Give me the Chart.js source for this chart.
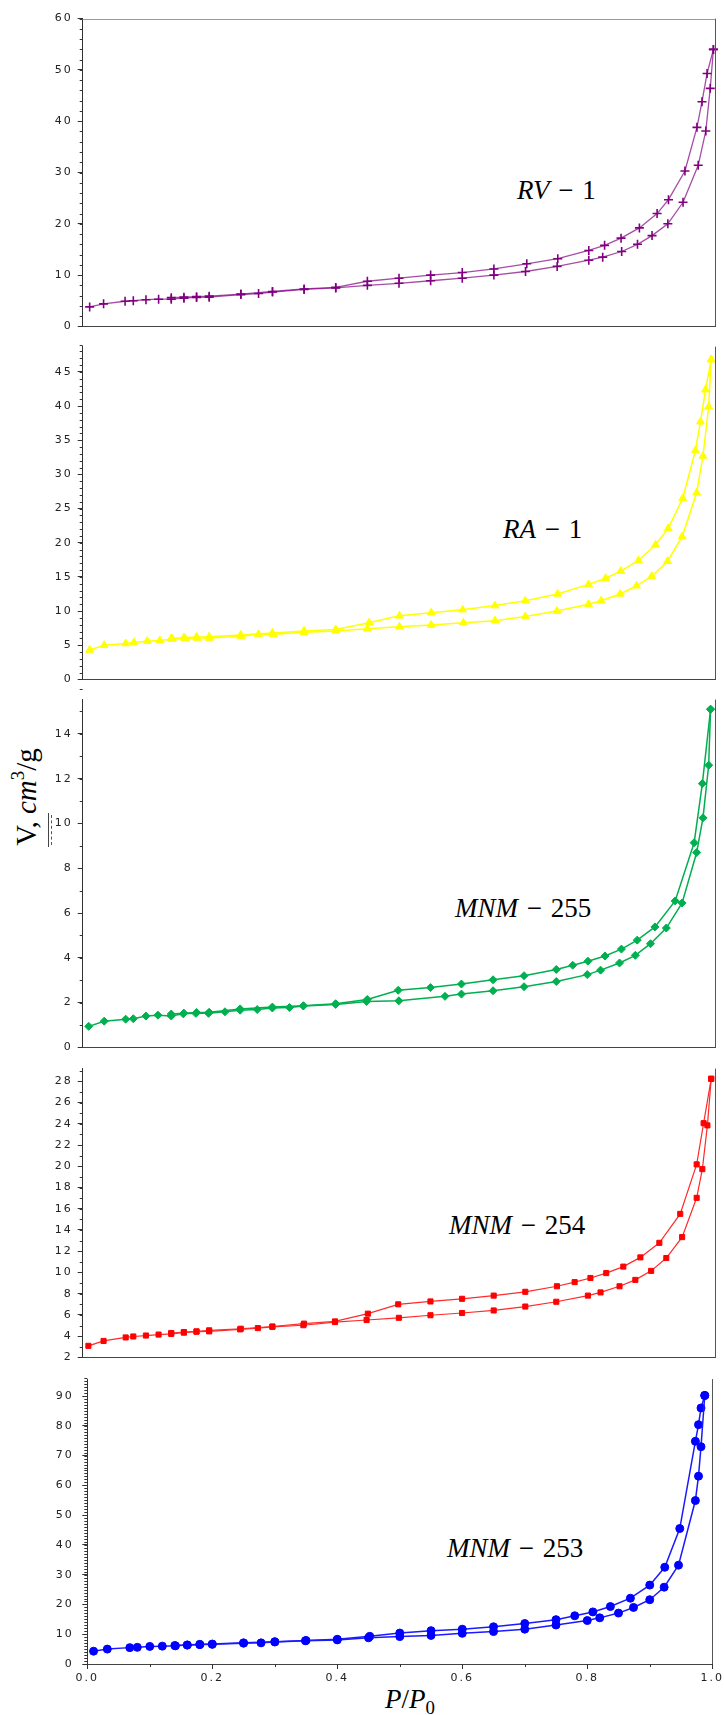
<!DOCTYPE html>
<html>
<head>
<meta charset="utf-8">
<script src="https://cdn.jsdelivr.net/npm/chart.js@4.4.1/dist/chart.umd.min.js"></script>
<style>
  body { margin: 0; background: #fff; }
  #wrap { position: relative; width: 724px; height: 1715px; overflow: hidden; }
  #wrap canvas { position: absolute; left: 0; }
  .lbl { position: absolute; font-family: "Liberation Serif", serif; font-size: 27px; line-height: 1; color: #000; white-space: nowrap; word-spacing: 2px; }
  .lbl i { font-style: italic; }
  #ytitle { position: absolute; left: 26px; top: 797px; transform: translate(-50%, -50%) rotate(-90deg); font-family: "Liberation Serif", serif; font-size: 29px; line-height: 1; white-space: nowrap; }
  #ytitle sup { font-size: 0.65em; vertical-align: 0.6em; line-height: 0; }
  .lbl sub { font-size: 0.7em; vertical-align: -0.3em; line-height: 0; font-style: normal; }
  .bar { position: absolute; width: 0; }
</style>
</head>
<body>
<div id="wrap">
  <div class="lbl" style="left:517px;top:177px"><i>RV</i> − 1</div>
  <div class="lbl" style="left:503px;top:516px"><i>RA</i> − 1</div>
  <div class="lbl" style="left:455px;top:895px"><i>MNM</i> − 255</div>
  <div class="lbl" style="left:449px;top:1212px"><i>MNM</i> − 254</div>
  <div class="lbl" style="left:447px;top:1535px"><i>MNM</i> − 253</div>
  <div id="ytitle">V, <i>cm</i><sup>3</sup>/g</div>
  <div class="bar" style="left:48px;top:813px;height:34px;border-left:1.5px solid #444"></div>
  <div class="bar" style="left:51px;top:815px;height:30px;border-left:1.5px dashed #555"></div>
  <div class="lbl" style="left:385px;top:1686px"><i>P</i>/<i>P</i><sub>0</sub></div>
</div>
<script>
// P/P0 and adsorbed volume, adsorption (lower) and desorption (upper) branches
const RV_ADS_P = [0.011,0.033,0.067,0.08,0.1,0.12,0.14,0.16,0.18,0.2,0.25,0.278,0.3,0.35,0.4,0.45,0.5,0.55,0.6,0.65,0.7,0.75,0.8,0.822,0.852,0.877,0.9,0.925,0.949,0.973,0.985,0.992,0.997];
const RV_ADS_V = [3.8,4.4,4.9,5.0,5.2,5.3,5.3,5.5,5.65,5.7,6.2,6.4,6.7,7.2,7.5,8.0,8.4,8.9,9.4,10.0,10.7,11.7,12.9,13.5,14.6,16.0,17.7,20.0,24.2,31.4,38.1,46.4,54.0];
const RV_DES_P = [0.997,0.987,0.979,0.971,0.952,0.926,0.908,0.88,0.851,0.825,0.8,0.751,0.702,0.65,0.6,0.55,0.5,0.45,0.4,0.35,0.3,0.25,0.2,0.18,0.16,0.14];
const RV_DES_V = [54.0,49.3,43.8,38.8,30.3,24.7,22.0,19.2,17.2,15.8,14.8,13.2,12.2,11.2,10.5,10.0,9.4,8.8,7.6,7.3,6.8,6.3,5.9,5.8,5.7,5.6];

const RA_ADS_P = [0.011,0.034,0.068,0.081,0.102,0.122,0.142,0.162,0.181,0.2,0.25,0.278,0.301,0.35,0.4,0.45,0.501,0.551,0.602,0.652,0.7,0.75,0.8,0.82,0.85,0.876,0.9,0.925,0.948,0.971,0.981,0.99,0.994];
const RA_ADS_V = [4.3,5.0,5.25,5.4,5.6,5.7,5.9,6.0,6.05,6.05,6.3,6.6,6.6,6.9,7.1,7.4,7.7,7.95,8.3,8.6,9.2,10.0,11.0,11.5,12.5,13.7,15.1,17.3,20.9,27.3,32.7,39.9,46.8];
const RA_DES_P = [0.994,0.985,0.977,0.969,0.949,0.926,0.906,0.879,0.851,0.827,0.8,0.751,0.7,0.652,0.601,0.551,0.501,0.453,0.4,0.35,0.3,0.25,0.2,0.18,0.16,0.14];
const RA_DES_V = [46.8,42.4,37.7,33.5,26.5,22.1,19.7,17.4,15.85,14.8,13.9,12.5,11.5,10.8,10.2,9.75,9.3,8.3,7.3,7.1,6.8,6.5,6.25,6.2,6.1,6.0];

const M255_ADS_P = [0.0095,0.034,0.068,0.08,0.1,0.119,0.14,0.159,0.179,0.199,0.225,0.249,0.276,0.3,0.327,0.349,0.4,0.449,0.5,0.573,0.599,0.649,0.698,0.749,0.798,0.819,0.849,0.874,0.898,0.923,0.948,0.971,0.981,0.99,0.993];
const M255_ADS_V = [0.94,1.17,1.26,1.28,1.4,1.44,1.4,1.5,1.52,1.52,1.59,1.66,1.69,1.76,1.78,1.85,1.92,2.05,2.08,2.28,2.38,2.53,2.71,2.94,3.25,3.45,3.77,4.11,4.63,5.33,6.45,8.7,10.25,12.6,15.1];
const M255_DES_P = [0.993,0.98,0.967,0.937,0.905,0.877,0.852,0.826,0.799,0.775,0.749,0.698,0.649,0.599,0.55,0.499,0.45,0.4,0.349,0.3,0.249,0.2,0.18,0.16,0.14];
const M255_DES_V = [15.1,11.78,9.14,6.54,5.38,4.79,4.39,4.08,3.85,3.67,3.48,3.2,3.02,2.83,2.67,2.55,2.14,1.95,1.86,1.8,1.72,1.57,1.56,1.53,1.49];

const M254_ADS_P = [0.009,0.033,0.068,0.08,0.1,0.12,0.14,0.16,0.18,0.2,0.249,0.277,0.3,0.349,0.399,0.449,0.5,0.55,0.6,0.65,0.7,0.749,0.799,0.819,0.849,0.874,0.899,0.923,0.948,0.971,0.98,0.988,0.994];
const M254_ADS_V = [3.09,3.55,3.88,3.97,4.06,4.15,4.21,4.33,4.42,4.45,4.64,4.76,4.88,5.03,5.33,5.52,5.73,5.97,6.18,6.42,6.79,7.24,7.82,8.12,8.7,9.3,10.15,11.36,13.33,17.03,19.73,23.85,28.24];
const M254_DES_P = [0.994,0.982,0.971,0.945,0.912,0.882,0.855,0.828,0.803,0.778,0.75,0.7,0.65,0.6,0.55,0.499,0.451,0.399,0.35,0.3,0.25,0.2,0.18,0.16,0.14];
const M254_DES_V = [28.24,24.06,20.18,15.52,12.79,11.42,10.55,9.94,9.48,9.09,8.7,8.18,7.82,7.52,7.27,7.0,6.12,5.39,5.18,4.91,4.7,4.55,4.45,4.39,4.3];

const M253_ADS_P = [0.01,0.032,0.068,0.08,0.1,0.12,0.141,0.16,0.18,0.2,0.25,0.278,0.3,0.349,0.4,0.45,0.5,0.55,0.6,0.65,0.7,0.75,0.8,0.82,0.85,0.874,0.9,0.923,0.946,0.973,0.978,0.982,0.988];
const M253_ADS_V = [4.3,5.0,5.5,5.6,5.9,6.0,6.1,6.35,6.5,6.6,7.0,7.1,7.4,7.8,8.1,8.8,9.2,9.6,10.3,10.9,11.7,13.1,14.6,15.5,17.1,19.0,21.6,25.8,33.2,54.9,63.1,73.0,90.2];
const M253_DES_P = [0.988,0.982,0.978,0.973,0.948,0.924,0.9,0.869,0.837,0.809,0.78,0.75,0.7,0.65,0.6,0.55,0.5,0.452,0.4,0.35,0.3,0.25,0.2,0.18,0.16,0.14];
const M253_DES_V = [90.2,86.0,80.4,74.8,45.5,32.5,26.5,22.1,19.3,17.5,16.2,14.9,13.6,12.5,11.7,11.2,10.4,9.3,8.3,7.9,7.5,7.1,6.7,6.6,6.4,6.2];

const Y_TICKS_RV = [0,10,20,30,40,50,60];
const Y_TICKS_RA = [0,5,10,15,20,25,30,35,40,45];
const Y_TICKS_255 = [0,2,4,6,8,10,12,14];
const Y_TICKS_254 = [2,4,6,8,10,12,14,16,18,20,22,24,26,28];
const Y_TICKS_253 = [0,10,20,30,40,50,60,70,80,90];
const X_TICKS = [0,0.2,0.4,0.6,0.8,1.0];

const PANELS = [
  { area: {l: 82.7, t: 15, r: 715.3, b: 333.3}, yMin: 0, yMax: 60, yTicks: Y_TICKS_RV, yMinor: 2,
    ads: [RV_ADS_P, RV_ADS_V], des: [RV_DES_P, RV_DES_V],
    mark: '#800080', line: 'rgba(128,0,128,0.7)', style: 'cross', radius: 4.5, pbw: 1.6, lw: 1.3, top: true, labPad: 5 },
  { area: {l: 82.7, t: 343, r: 715, b: 686.3}, yMin: 0, yMax: 48.7, yTicks: Y_TICKS_RA, yMinor: 1,
    ads: [RA_ADS_P, RA_ADS_V], des: [RA_DES_P, RA_DES_V],
    mark: '#ffff00', line: '#ffff00', style: 'triangle', radius: 4.5, pbw: 1, lw: 1.5, labPad: 5 },
  { area: {l: 82.7, t: 696.5, r: 715, b: 1055}, yMin: 0, yMax: 15.53, yTicks: Y_TICKS_255, yMinor: 1,
    ads: [M255_ADS_P, M255_ADS_V], des: [M255_DES_P, M255_DES_V],
    mark: '#00b050', line: '#00b050', style: 'rectRot', radius: 4, pbw: 1, lw: 1.5, labPad: 5 },
  { area: {l: 82.7, t: 1065, r: 715, b: 1364.3}, yMin: 2, yMax: 29.2, yTicks: Y_TICKS_254, yMinor: 1,
    ads: [M254_ADS_P, M254_ADS_V], des: [M254_DES_P, M254_DES_V],
    mark: '#ff0000', line: '#ff2a2a', style: 'rect', radius: 3.6, pbw: 1, lw: 1.2, labPad: 5 },
  { area: {l: 87.3, t: 1372.7, r: 714, b: 1664}, yMin: 0, yMax: 95.7, yTicks: Y_TICKS_253, yMinor: 1,
    ads: [M253_ADS_P, M253_ADS_V], des: [M253_DES_P, M253_DES_V],
    mark: '#0000ff', line: '#1a1aff', style: 'circle', radius: 4, pbw: 1, lw: 1.5, labPad: 8.5, xLabels: true }
];

function pairs(xs, ys) {
  return xs.map((x, i) => ({ x: x, y: ys[i] }));
}

// minor ticks, right frame and (first panel) top frame
const frameTicks = {
  id: 'frameTicks',
  beforeDraw(chart) {
    chart.ctx.letterSpacing = '2px';
  },
  afterDraw(chart, args, o) {
    const ctx = chart.ctx, ys = chart.scales.y, xs = chart.scales.x, a = chart.chartArea;
    ctx.save();
    ctx.strokeStyle = '#333';
    ctx.lineWidth = 1;
    ctx.beginPath();
    const n = Math.round((ys.max - ys.min) / o.yStep);
    for (let k = 0; k <= n; k++) {
      const py = Math.round(ys.getPixelForValue(ys.min + k * o.yStep)) + 0.5;
      ctx.moveTo(a.left - 3, py);
      ctx.lineTo(a.left, py);
    }
    if (o.xStep) {
      const m = Math.round((xs.max - xs.min) / o.xStep);
      for (let k = 0; k <= m; k++) {
        const px = Math.round(xs.getPixelForValue(xs.min + k * o.xStep)) + 0.5;
        ctx.moveTo(px, a.bottom);
        ctx.lineTo(px, a.bottom + 3);
      }
    }
    ctx.stroke();
    ctx.strokeStyle = '#555';
    ctx.beginPath();
    const rx = Math.round(a.right) + 0.5;
    ctx.moveTo(rx, a.top);
    ctx.lineTo(rx, a.bottom);
    ctx.stroke();
    if (o.top) {
      ctx.strokeStyle = '#999';
      ctx.beginPath();
      const ty = Math.round(a.top) + 0.5;
      ctx.moveTo(a.left, ty);
      ctx.lineTo(a.right, ty);
      ctx.stroke();
    }
    ctx.restore();
  }
};

const wrap = document.getElementById('wrap');

PANELS.forEach(p => {
  const below = p.xLabels ? 40 : 4;
  const xh = p.xLabels ? 30 : 0;
  const ct = Math.floor(p.area.t) - 8;
  const cb = Math.ceil(p.area.b) + below;
  const cv = document.createElement('canvas');
  cv.width = 724;
  cv.height = cb - ct;
  cv.style.top = ct + 'px';
  cv.style.width = '724px';
  cv.style.height = (cb - ct) + 'px';
  wrap.appendChild(cv);

  const ds = (xs, ys) => ({
    data: pairs(xs, ys),
    showLine: true,
    tension: 0,
    clip: false,
    borderColor: p.line,
    borderWidth: p.lw,
    pointStyle: p.style,
    pointRadius: p.radius,
    pointBorderWidth: p.pbw,
    pointBorderColor: p.mark,
    pointBackgroundColor: p.mark
  });

  new Chart(cv, {
    type: 'scatter',
    data: { datasets: [ds(p.ads[0], p.ads[1]), ds(p.des[0], p.des[1])] },
    options: {
      responsive: false,
      animation: false,
      events: [],
      layout: { padding: { left: 0, top: p.area.t - ct, right: 724 - p.area.r, bottom: cb - p.area.b - xh } },
      plugins: {
        legend: { display: false },
        tooltip: { enabled: false },
        frameTicks: { yStep: p.yMinor, xStep: p.xLabels ? 0.1 : 0, top: !!p.top }
      },
      scales: {
        x: {
          type: 'linear', min: 0, max: 1,
          afterFit: s => { s.height = xh; },
          afterBuildTicks: s => { s.ticks = X_TICKS.map(v => ({ value: v })); },
          border: { color: '#444', width: 1 },
          grid: { display: !!p.xLabels, drawOnChartArea: false, tickLength: 5, tickColor: '#333' },
          ticks: {
            display: !!p.xLabels, autoSkip: false, maxRotation: 0, padding: 3, color: '#222',
            font: { family: 'DejaVu Sans', size: 11 },
            callback: v => v.toFixed(1)
          }
        },
        y: {
          min: p.yMin, max: p.yMax,
          afterFit: s => { s.width = p.area.l; },
          afterBuildTicks: s => { s.ticks = p.yTicks.map(v => ({ value: v })); },
          border: { color: '#333', width: 1 },
          grid: { drawOnChartArea: false, tickLength: 5, tickColor: '#333' },
          ticks: {
            autoSkip: false, padding: p.labPad, color: '#222',
            font: { family: 'DejaVu Sans', size: 11 }
          }
        }
      }
    },
    plugins: [frameTicks]
  });
});
</script>
</body>
</html>
